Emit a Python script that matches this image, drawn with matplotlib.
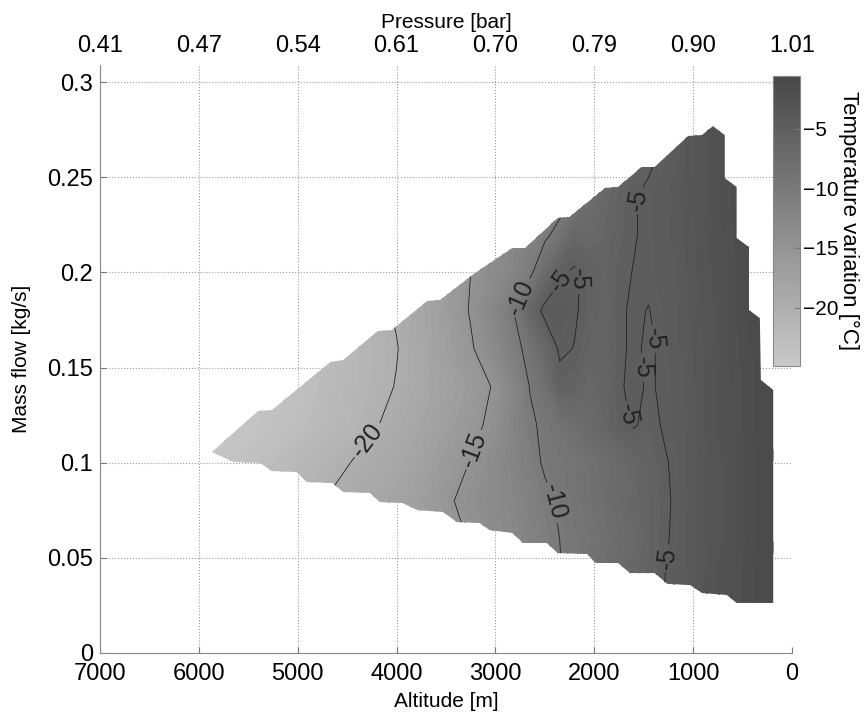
import numpy as np
import matplotlib
matplotlib.use("Agg")
import matplotlib.pyplot as plt
from matplotlib.colors import LinearSegmentedColormap, Normalize
from matplotlib.cm import ScalarMappable
from matplotlib.patches import Polygon

plt.rcParams['font.family'] = ['Liberation Sans', 'DejaVu Sans']

# grid of the measured map (altitude [m] x mass flow [kg/s])
altitude = [0, 250, 500, 750, 1000, 1200, 1350, 1450, 1600, 1750, 1900, 2050, 2200,
            2350, 2500, 2650, 2800, 3000, 3250, 3500, 3750, 4000, 4500, 5000, 5500, 6000]
mass_flow = [0.02, 0.04, 0.06, 0.08, 0.10, 0.12, 0.14, 0.16, 0.18, 0.20, 0.22, 0.24, 0.26, 0.28]

# temperature variation [degC], one row per mass flow
temp_002 = [-0.8, -1.2, -2.0, -2.9, -3.8, -4.6, -5.3, -5.8, -6.5, -7.2, -8.0, -8.7, -9.4, -10.1, -10.9, -11.8, -12.8, -14.2, -16.0, -17.5, -19.0, -20.3, -22.0, -23.3, -24.3, -25.0]
temp_004 = [-0.8, -1.2, -2.0, -2.9, -3.8, -4.6, -5.3, -5.8, -6.5, -7.2, -8.0, -8.7, -9.4, -10.1, -10.9, -11.8, -12.8, -14.2, -16.0, -17.5, -19.0, -20.3, -22.0, -23.3, -24.3, -25.0]
temp_006 = [-0.8, -1.3, -2.1, -3.0, -3.9, -4.8, -5.5, -6.0, -6.8, -7.6, -8.3, -8.9, -9.4, -10.0, -10.8, -11.7, -12.7, -13.5, -14.8, -16.0, -17.3, -18.8, -20.8, -22.5, -23.8, -24.8]
temp_008 = [-0.8, -1.3, -2.1, -3.0, -3.9, -4.9, -5.5, -5.9, -6.5, -7.2, -7.9, -8.5, -9.1, -9.7, -10.5, -11.4, -12.3, -13.2, -14.2, -15.4, -16.8, -18.0, -19.3, -20.8, -22.6, -24.0]
temp_010 = [-0.8, -1.3, -2.1, -3.0, -3.9, -4.8, -5.4, -5.8, -6.4, -7.1, -7.8, -8.4, -8.9, -9.4, -9.7, -10.8, -11.9, -13.4, -14.9, -16.2, -17.5, -18.6, -20.1, -21.8, -23.3, -24.5]
temp_012 = [-0.7, -1.2, -2.0, -2.9, -3.8, -4.6, -5.05, -5.4, -4.85, -5.4, -6.3, -7.2, -8.0, -8.8, -9.5, -10.4, -11.8, -14.2, -15.8, -17.0, -18.3, -19.3, -21.3, -22.8, -24.0, -24.9]
temp_014 = [-0.7, -1.2, -2.0, -2.9, -3.8, -4.5, -4.9, -5.2, -4.6, -5.2, -6.0, -6.6, -5.8, -5.6, -8.4, -9.9, -12.0, -14.7, -16.3, -17.5, -18.8, -19.9, -21.6, -23.2, -24.2, -25.0]
temp_016 = [-0.7, -1.1, -1.9, -2.8, -3.7, -4.4, -4.85, -5.3, -4.7, -5.3, -6.2, -6.0, -5.05, -4.7, -6.8, -9.0, -10.8, -13.0, -15.3, -17.0, -18.6, -20.1, -21.6, -23.0, -24.0, -24.8]
temp_018 = [-0.7, -1.1, -1.8, -2.7, -3.6, -4.3, -4.7, -5.05, -4.8, -5.2, -6.0, -5.6, -4.8, -4.3, -4.4, -6.5, -9.8, -12.3, -14.8, -16.8, -18.5, -19.8, -21.5, -23.0, -24.0, -24.8]
temp_020 = [-0.7, -1.1, -1.8, -2.7, -3.5, -4.2, -4.5, -4.7, -4.95, -5.3, -5.9, -5.6, -4.7, -5.25, -7.5, -10.6, -12.0, -13.5, -15.0, -16.5, -18.0, -19.3, -21.2, -22.8, -23.9, -24.7]
temp_022 = [-0.7, -1.1, -1.7, -2.6, -3.4, -4.1, -4.4, -4.7, -5.1, -5.6, -6.3, -6.8, -6.6, -9.0, -10.6, -11.5, -12.5, -13.8, -15.2, -16.7, -18.1, -19.4, -21.2, -22.8, -23.9, -24.7]
temp_024 = [-0.7, -1.0, -1.6, -2.5, -3.3, -4.0, -4.4, -4.7, -5.1, -5.8, -6.6, -8.0, -10.2, -11.5, -12.2, -12.8, -13.5, -14.5, -15.8, -17.2, -18.5, -19.7, -21.4, -22.9, -24.0, -24.8]
temp_026 = [-0.7, -1.0, -1.6, -2.5, -3.4, -4.3, -4.9, -5.3, -5.8, -6.5, -7.3, -8.5, -10.5, -12.0, -12.8, -13.3, -13.9, -14.8, -16.0, -17.3, -18.6, -19.8, -21.5, -23.0, -24.0, -24.8]
temp_028 = [-0.7, -1.0, -1.6, -2.5, -3.4, -4.3, -4.9, -5.3, -5.8, -6.5, -7.3, -8.5, -10.5, -12.0, -12.8, -13.3, -13.9, -14.8, -16.0, -17.3, -18.6, -19.8, -21.5, -23.0, -24.0, -24.8]

# operating envelope (upper edge from the low-flow tip, then lower edge)
env_top_alt = [5870, 5400, 5260, 4670, 4540, 4190, 4050, 3690, 3560, 3260, 3160, 2830, 2700, 2370,
               2250, 1890, 1760, 1520, 1390, 1050, 910, 800, 680, 680, 560, 560, 435, 435, 325,
               315, 190, 190]
env_top_mf = [0.1056, 0.1272, 0.1277, 0.1529, 0.1540, 0.1692, 0.1697, 0.1850, 0.1855, 0.1976,
              0.2013, 0.2128, 0.2128, 0.2286, 0.2291, 0.2444, 0.2449, 0.2554, 0.2554, 0.2717,
              0.2722, 0.2769, 0.2722, 0.2496, 0.2449, 0.2181, 0.2133, 0.1802, 0.1760, 0.1435,
              0.1382, 0.0263]
env_bot_alt = [5870, 5650, 5380, 5260, 5010, 4910, 4650, 4540, 4270, 4170, 3940, 3790, 3530, 3390,
               3160, 3060, 2830, 2720, 2480, 2370, 2070, 1990, 1760, 1640, 1390, 1260, 1030, 910,
               660, 560, 190]
env_bot_mf = [0.1056, 0.1004, 0.0998, 0.0956, 0.0951, 0.0899, 0.0893, 0.0846, 0.0841, 0.0793,
              0.0788, 0.0751, 0.0741, 0.0688, 0.0683, 0.0646, 0.0631, 0.0578, 0.0578, 0.0525,
              0.0520, 0.0473, 0.0473, 0.0420, 0.0420, 0.0363, 0.0357, 0.0315, 0.0305, 0.0263,
              0.0263]

line_levels = [-20, -15, -10, -5]
label_pos = [(4299, 0.112), (3227, 0.107), (2701, 0.1855), (2428, 0.079), (1588, 0.238),
             (2347, 0.196), (2114, 0.196), (1680, 0.125), (1530, 0.150), (1400, 0.165),
             (1305, 0.050)]

alt_ticks = [7000, 6000, 5000, 4000, 3000, 2000, 1000, 0]
pressure_labels = ['0.41', '0.47', '0.54', '0.61', '0.70', '0.79', '0.90', '1.01']
mf_ticks = [0, 0.05, 0.1, 0.15, 0.2, 0.25, 0.3]
mf_labels = ['0', '0.05', '0.1', '0.15', '0.2', '0.25', '0.3']

temp = np.array([temp_002, temp_004, temp_006, temp_008, temp_010, temp_012, temp_014,
                 temp_016, temp_018, temp_020, temp_022, temp_024, temp_026, temp_028])
A, M = np.meshgrid(altitude, mass_flow)

cmap = LinearSegmentedColormap.from_list('grey_map', ['#c9c9c9', '#474747'])
norm = Normalize(vmin=-24.9, vmax=-0.6)

fig = plt.figure(figsize=(8.65, 7.16), dpi=100)
ax = fig.add_axes([0.1156, 0.088, 0.8, 0.8212])
ax.set_xlim(7000, 0)
ax.set_ylim(0, 0.309)
ax.set_axisbelow(True)
ax.grid(True, linestyle=':', color='#9a9a9a', linewidth=0.8)

env = Polygon(np.column_stack([env_top_alt + env_bot_alt[::-1],
                               env_top_mf + env_bot_mf[::-1]]),
              closed=True, facecolor='none', edgecolor='none', transform=ax.transData)
ax.add_patch(env)

cf = ax.contourf(A, M, temp, levels=np.linspace(-25.5, -0.3, 60), cmap=cmap, norm=norm)
cf.set_edgecolor('face')
cf.set_linewidth(0.3)
cf.set_clip_path(env)

cl = ax.contour(A, M, temp, levels=line_levels, colors='#222222', linewidths=0.6,
                linestyles='solid')
cl.set_clip_path(env)
ax.clabel(cl, fmt='%d', manual=label_pos, fontsize=18, inline=True, inline_spacing=3)

ax.set_xticks(alt_ticks)
ax.set_xticklabels([str(a) for a in alt_ticks])
ax.set_yticks(mf_ticks)
ax.set_yticklabels(mf_labels)
ax.tick_params(direction='in', length=4, labelsize=17, colors='#777777', labelcolor='black', pad=5)
ax.tick_params(axis='x', pad=7)
for s in ['top', 'right']:
    ax.spines[s].set_visible(False)
for s in ['left', 'bottom']:
    ax.spines[s].set_color('#888888')
ax.set_xlabel('Altitude [m]', fontsize=15, labelpad=5)
ax.set_ylabel('Mass flow [kg/s]', fontsize=15, labelpad=12)

ax2 = ax.twiny()
ax2.set_xlim(ax.get_xlim())
ax2.set_xticks(alt_ticks)
ax2.set_xticklabels(pressure_labels)
ax2.tick_params(length=0, labelsize=17, pad=6)
for s in ax2.spines.values():
    s.set_visible(False)
ax2.set_xlabel('Pressure [bar]', fontsize=15, labelpad=5)

cax = fig.add_axes([0.8936, 0.4888, 0.0312, 0.405])
cb = fig.colorbar(ScalarMappable(norm=norm, cmap=cmap), cax=cax)
cb.set_ticks([-20, -15, -10, -5])
cb.outline.set_edgecolor('#888888')
cax.tick_params(direction='in', length=4, labelsize=15, colors='#777777', labelcolor='black',
                pad=2)
cb.set_label('Temperature variation [°C]', rotation=270, fontsize=16, labelpad=0, va='bottom')

fig.savefig('out.png', dpi=100)
